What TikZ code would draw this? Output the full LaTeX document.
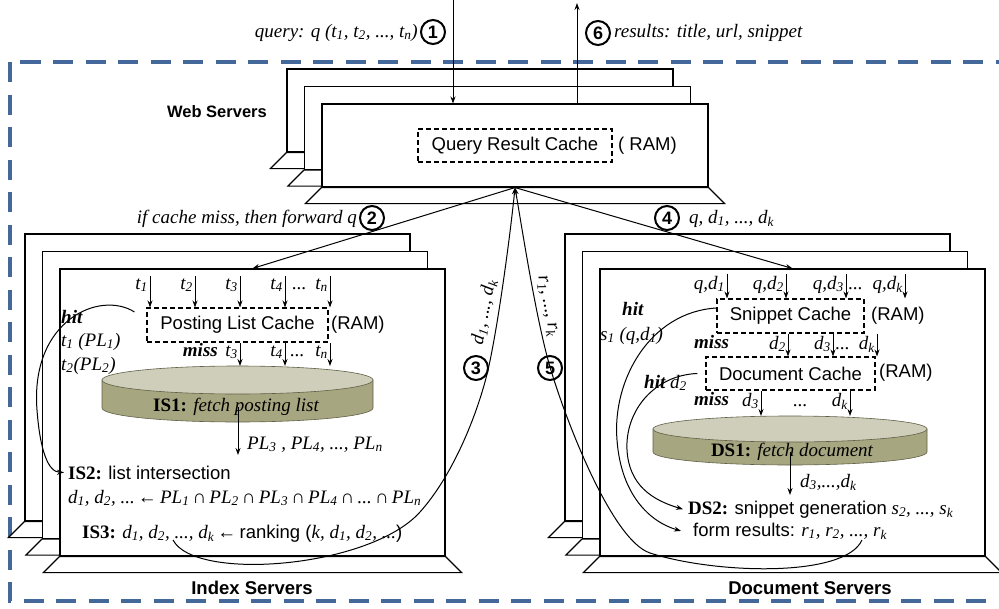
\documentclass[tikz,border=0pt]{standalone}
\usepackage{fontspec}
\setmainfont{Liberation Serif}
\setsansfont{Liberation Sans}
\usetikzlibrary{arrows.meta}
\definecolor{bb}{RGB}{68, 104, 153}
\definecolor{cyltop}{RGB}{206, 206, 186}
\definecolor{cylside}{RGB}{166, 166, 128}
\definecolor{cyledge}{RGB}{96, 96, 72}
\newcommand{\ix}[2]{#1\textsubscript{#2}}
\newcommand{\sfs}{\sffamily\fontsize{18.5}{20}\selectfont}
\newcommand{\larr}{{\upshape ←}}
\newcommand{\inter}{{\upshape ∩}}
\newcommand{\srvbase}[1]{\draw[srv] (#1.south west) -- ++(-16,-16) -- ([shift={(16,-16)}]#1.south east) -- (#1.south east) -- cycle;}

\begin{document}
\begin{tikzpicture}[x=1pt, y=1pt,
  srv/.style={draw, fill=white, line width=1.1pt, inner sep=0pt},
  websrv/.style={srv, minimum width=386pt, minimum height=83pt},
  farm/.style={srv, minimum width=385pt, minimum height=287pt},
  cache/.style={draw, dash pattern=on 5pt off 3pt, line width=1.1pt, inner sep=0pt, font=\sfs},
  arr/.style={line width=1pt, -{Stealth[length=7pt, width=5pt]}},
  num/.style={circle, draw, line width=2pt, inner sep=0pt, minimum size=24pt, font=\sffamily\bfseries\fontsize{18}{18}\selectfont},
  tl/.style={anchor=base east, inner xsep=2pt, inner ysep=2pt, font=\itshape},
  txt/.style={inner sep=0pt},
  ttl/.style={inner sep=0pt, font=\sffamily\bfseries\fontsize{18.5}{20}\selectfont}]
\fontsize{19}{21}\selectfont
\useasboundingbox (0, 0) rectangle (999, -608);
\draw[bb, line width=3.3pt, dash pattern=on 20pt off 12.5pt] (10, -62) rectangle (1030, -601);

\node (web3) [websrv] at (480, -110.5) {}; \srvbase{web3}
\node (web2) [websrv] at (497.5, -128) {}; \srvbase{web2}
\node (web1) [websrv] at (515, -145.5) {}; \srvbase{web1}
\node (idx3) [farm] at (217.5, -377.5) {}; \srvbase{idx3}
\node (idx2) [farm] at (235, -395) {}; \srvbase{idx2}
\node (idx1) [farm] at (252.5, -412.5) {}; \srvbase{idx1}
\node (doc3) [farm] at (757.5, -377.5) {}; \srvbase{doc3}
\node (doc2) [farm] at (775, -395) {}; \srvbase{doc2}
\node (doc1) [farm] at (792.5, -412.5) {}; \srvbase{doc1}

\node (wlbl) [ttl, anchor=east, font=\sffamily\bfseries\fontsize{16.5}{18}\selectfont] at (267, -112) {Web Servers};
\node (ilbl) [ttl] at (252, -588) {Index Servers};
\node (dlbl) [ttl] at (810, -588) {Document Servers};

\node (qrc) [cache, minimum width=194pt, minimum height=33pt] at (515, -145.5) {Query Result Cache};
\node (ram1) [txt, anchor=west, font=\sfs] at (618, -146) {( RAM)};

\coordinate (qin) at (453, 0);
\coordinate (rout) at (577, -3);
\draw[arr] (qin) -- (qin |- web1.north);
\draw[arr] (rout |- web1.north) -- (rout);
\node (n1) [num] at (433, -32) {1};
\node (l1) [txt, anchor=base east, font=\itshape] at (418, -37) {query: q (\ix{t}{1}, \ix{t}{2}, ..., \ix{t}{n})};
\node (n6) [num] at (598, -33) {6};
\node (l6) [txt, anchor=base west, font=\itshape] at (614, -37) {results: title, url, snippet};

\draw[arr] (web1.south) -- (idx1.north);
\draw[arr] (web1.south) -- (doc1.north);
\node (n2) [num] at (372, -218) {2};
\node (l2) [txt, anchor=base east, font=\itshape] at (357, -223) {if cache miss, then forward q};
\node (n4) [num] at (667, -218) {4};
\node (l4) [txt, anchor=base west, font=\itshape] at (689, -223) {q, \ix{d}{1}, ..., \ix{d}{k}};

\node (plc) [cache, minimum width=181pt, minimum height=34pt] at (237.5, -325) {Posting List Cache};
\node (ram2) [txt, anchor=west, font=\sfs] at (331, -325) {(RAM)};
\node (t1) [tl] at (150, -289) {\ix{t}{1}};
\node (t2) [tl] at (195, -289) {\ix{t}{2}};
\node (t3) [tl] at (240, -289) {\ix{t}{3}};
\node (t4) [tl] at (285, -289) {\ix{t}{4}};
\node (tdd) [txt, anchor=base] at (299, -289) {...};
\node (tn) [tl] at (330, -289) {\ix{t}{n}};
\draw[arr] (t1.north east) -- (t1.north east |- plc.north);
\draw[arr] (t2.north east) -- (t2.north east |- plc.north);
\draw[arr] (t3.north east) -- (t3.north east |- plc.north);
\draw[arr] (t4.north east) -- (t4.north east |- plc.north);
\draw[arr] (tn.north east) -- (tn.north east |- plc.north);
\node (hit1) [txt, anchor=base west, font=\bfseries\itshape] at (61, -323) {hit};
\node (pl1) [txt, anchor=base west, font=\itshape] at (61, -346) {\ix{t}{1} (\ix{PL}{1})};
\node (pl2) [txt, anchor=base west, font=\itshape] at (61, -370) {\ix{t}{2}(\ix{PL}{2})};
\node (miss1) [txt, anchor=base east, font=\bfseries\itshape] at (218, -356) {miss};
\node (t3m) [tl] at (240, -356) {\ix{t}{3}};
\node (t4m) [tl] at (285, -356) {\ix{t}{4}};
\node (tdm) [txt, anchor=base] at (297, -356) {...};
\node (tnm) [tl] at (330, -356) {\ix{t}{n}};
\coordinate (cyl1) at (237.5, -366);
\draw[arr] (t3m.north east) -- (t3m.north east |- cyl1);
\draw[arr] (t4m.north east) -- (t4m.north east |- cyl1);
\draw[arr] (tnm.north east) -- (tnm.north east |- cyl1);
\draw[fill=cylside, draw=cyledge, line width=0.6pt] (102, -380) -- (102, -408) arc[start angle=180, end angle=360, x radius=135.5, y radius=14] -- (373, -380) -- cycle;
\draw[fill=cyltop, draw=cyledge, line width=0.6pt] (237.5, -380) ellipse [x radius=135.5, y radius=14];
\node (is1) [txt] at (236, -407) {{\bfseries IS1:} {\itshape fetch posting list}};
\coordinate (pl) at (238, -455);
\draw[arr] (is1.center -| pl) -- (pl);
\node (plr) [txt, anchor=base west, font=\itshape] at (247, -449) {\ix{PL}{3} , \ix{PL}{4}, ..., \ix{PL}{n}};
\node (is2) [anchor=base west, inner xsep=4pt, inner ysep=0pt] at (64, -479) {{\bfseries IS2:} {\sfs list intersection}};
\node (int) [txt, anchor=base west, font=\itshape] at (68, -503) {\ix{d}{1}, \ix{d}{2}, ...\,\larr\,\ix{PL}{1}\,\inter\,\ix{PL}{2}\,\inter\,\ix{PL}{3}\,\inter\,\ix{PL}{4}\,\inter\,...\,\inter\,\ix{PL}{n}};
\node (is3) [txt, anchor=base west] at (82, -538) {{\bfseries IS3:} {\itshape \ix{d}{1}, \ix{d}{2}, ..., \ix{d}{k}}\,\larr\,{\sfs ranking (}{\itshape k, \ix{d}{1}, \ix{d}{2}, ...}{\sfs )}};
\coordinate (c3) at (173, -540);
\draw[arr] ([shift={(-12pt,13pt)}]plc.west) .. controls (100, -290) and (30, -320) .. (37, -410) .. controls (40, -450) and (48, -472) .. (is2.west);

\node (snc) [cache, minimum width=147pt, minimum height=34pt] at (790.5, -316) {Snippet Cache};
\node (ram3) [txt, anchor=west, font=\sfs] at (871, -316) {(RAM)};
\node (qd1) [tl] at (727, -289) {q,\ix{d}{1}};
\node (qd2) [tl] at (786, -289) {q,\ix{d}{2}};
\node (qd3) [tl] at (846, -289) {q,\ix{d}{3}};
\node (qdd) [txt, anchor=base west] at (848, -289) {...};
\node (qdk) [tl] at (905, -289) {q,\ix{d}{k}};
\draw[arr] (qd1.north east) -- (qd1.north east |- snc.north);
\draw[arr] (qd2.north east) -- (qd2.north east |- snc.north);
\draw[arr] (qd3.north east) -- (qd3.north east |- snc.north);
\draw[arr] (qdk.north east) -- (qdk.north east |- snc.north);
\node (hit2) [txt, anchor=base west, font=\bfseries\itshape] at (622, -315) {hit};
\node (s1) [txt, anchor=base west, font=\itshape] at (600, -340) {\ix{s}{1} (q,\ix{d}{1})};
\node (miss2) [txt, anchor=base west, font=\bfseries\itshape] at (694, -348) {miss};
\node (d2) [tl] at (788, -349) {\ix{d}{2}};
\node (d3) [tl] at (833, -349) {\ix{d}{3}};
\node (ddd) [txt, anchor=base west] at (835, -349) {...};
\node (dk) [tl] at (877, -349) {\ix{d}{k}};
\node (dcc) [cache, minimum width=169pt, minimum height=33pt] at (790.5, -373.5) {Document Cache};
\node (ram4) [txt, anchor=west, font=\sfs] at (879, -373) {(RAM)};
\draw[arr] (d2.north east) -- (d2.north east |- dcc.north);
\draw[arr] (d3.north east) -- (d3.north east |- dcc.north);
\draw[arr] (dk.north east) -- (dk.north east |- dcc.north);
\node (hit3) [txt, anchor=base west] at (644, -388) {{\bfseries\itshape hit} {\itshape \ix{d}{2}}};
\node (miss3) [txt, anchor=base west, font=\bfseries\itshape] at (694, -405) {miss};
\node (d3m) [tl] at (761, -406) {\ix{d}{3}};
\node (dmm) [txt, anchor=base] at (800, -406) {...};
\node (dkm) [tl] at (850, -406) {\ix{d}{k}};
\coordinate (cyl2) at (790, -416);
\draw[arr] (d3m.north east) -- (d3m.north east |- cyl2);
\draw[arr] (dkm.north east) -- (dkm.north east |- cyl2);
\draw[fill=cylside, draw=cyledge, line width=0.6pt] (653, -429) -- (653, -452) arc[start angle=180, end angle=360, x radius=137, y radius=13] -- (927, -429) -- cycle;
\draw[fill=cyltop, draw=cyledge, line width=0.6pt] (790, -429) ellipse [x radius=137, y radius=13];
\node (ds1) [txt] at (792, -452) {{\bfseries DS1:} {\itshape fetch document}};
\coordinate (dd) at (790, -495);
\draw[arr] (ds1.center -| dd) -- (dd);
\node (d3k) [txt, anchor=base west, font=\itshape] at (800, -487) {\ix{d}{3},...,\ix{d}{k}};
\node (ds2) [anchor=base west, inner xsep=5pt, inner ysep=0pt] at (683, -514) {{\bfseries DS2:} {\sfs snippet generation} {\itshape \ix{s}{2}, ..., \ix{s}{k}}};
\node (fr) [anchor=base west, inner xsep=12pt, inner ysep=0pt] at (681, -536) {{\sfs form results:} {\itshape \ix{r}{1}, \ix{r}{2}, ..., \ix{r}{k}}};
\coordinate (c5) at (862, -540);
\draw[arr] ([yshift=8pt]snc.west) .. controls (650, -312) and (612, -380) .. (617, -440) .. controls (621, -495) and (650, -522) .. (fr.west);
\draw[arr] ([xshift=-8pt]dcc.west) .. controls (655, -375) and (625, -410) .. (627, -450) .. controls (629, -485) and (652, -500) .. (ds2.west);

\draw[arr] (c3) .. controls (195, -582) and (370, -568) .. (420, -512) .. controls (455, -473) and (479, -409) .. (488, -370) .. controls (499, -321.5) and (511, -228) .. (web1.south);
\draw[arr] (c5) .. controls (845, -578) and (715, -574) .. (650, -553) .. controls (611, -540) and (564, -415) .. (550, -367) .. controls (536, -319) and (522, -228) .. (web1.south);
\node (lab3) [txt, font=\itshape, rotate=79] at (484, -312) {\ix{d}{1}, ..., \ix{d}{k}};
\node (lab5) [txt, font=\itshape, rotate=-79] at (547, -306) {\ix{r}{1}, ..., \ix{r}{k}};
\node (n3) [num] at (476, -368) {3};
\node (n5) [num] at (550, -368) {5};
\end{tikzpicture}
\end{document}
